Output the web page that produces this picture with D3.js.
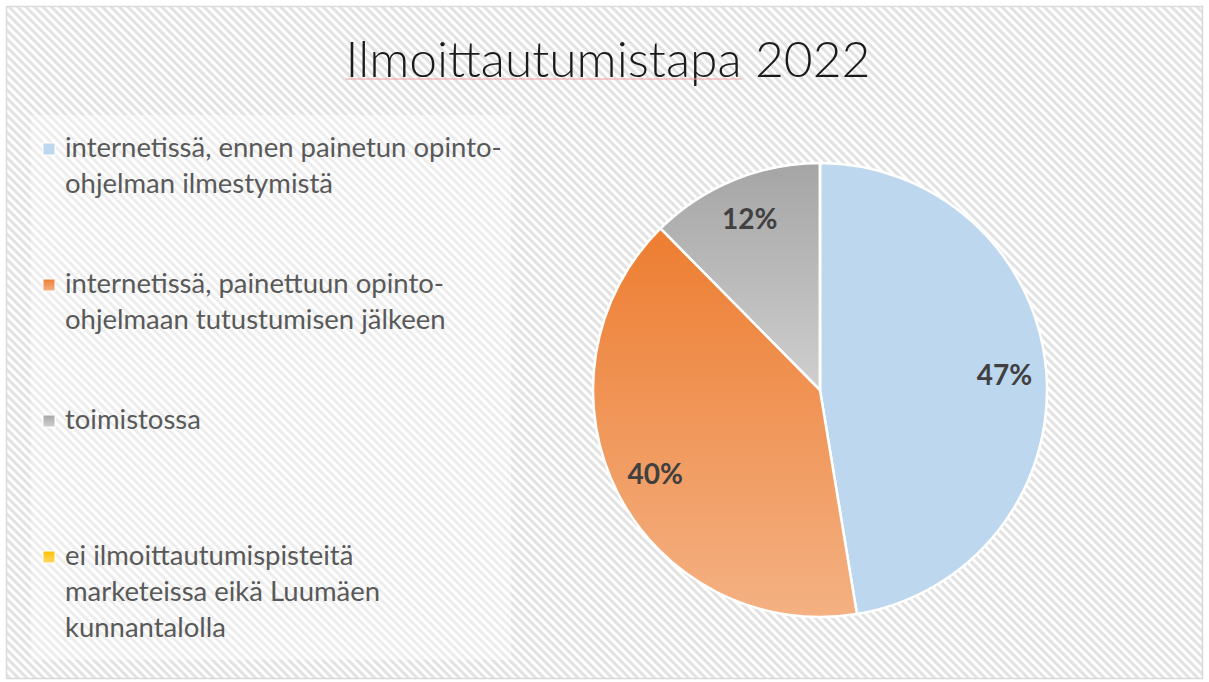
<html>
<head>
<style>
  body { margin: 0; background: #fff; }
  svg text { font-family: Lato, "Open Sans", sans-serif; }
</style>
</head>
<body>
  <div id="chart"></div>
  <script src="https://cdn.jsdelivr.net/npm/d3@7/dist/d3.min.js"></script>
  <script>
    // data
    var categories = [
      ['internetissä, ennen painetun opinto-', 'ohjelman ilmestymistä'],
      ['internetissä, painettuun opinto-', 'ohjelmaan tutustumisen jälkeen'],
      ['toimistossa'],
      ['ei ilmoittautumispisteitä', 'marketeissa eikä Luumäen', 'kunnantalolla']
    ];
    var values = [47.4, 40.2, 12.4, 0];
    var colorsTop = ['#bdd7ee', '#ed7d31', '#a5a5a5', '#ffc000'];
    var colorsBottom = ['#bdd7ee', '#f4b183', '#cfcfcf', '#ffd966'];
    var title = 'Ilmoittautumistapa 2022';

    var width = 1209, height = 682;
    var svg = d3.select('#chart').append('svg')
      .attr('width', width)
      .attr('height', height);

    var defs = svg.append('defs');
    var pat = defs.append('pattern')
      .attr('id', 'stripes')
      .attr('patternUnits', 'userSpaceOnUse')
      .attr('width', 6)
      .attr('height', 6)
      .attr('patternTransform', 'rotate(-45)');
    pat.append('rect').attr('width', 6).attr('height', 6).attr('fill', '#ffffff');
    pat.append('rect').attr('width', 3).attr('height', 6).attr('fill', '#e2e2e2');

    colorsTop.forEach(function(c, i) {
      var g = defs.append('linearGradient')
        .attr('id', 'grad' + i)
        .attr('x1', 0).attr('y1', 0).attr('x2', 0).attr('y2', 1);
      g.append('stop').attr('offset', '0%').attr('stop-color', c);
      g.append('stop').attr('offset', '100%').attr('stop-color', colorsBottom[i]);
    });

    // chart area background and frame
    svg.append('rect')
      .attr('x', 6.5).attr('y', 6.5)
      .attr('width', width - 13).attr('height', height - 10)
      .attr('fill', 'url(#stripes)')
      .attr('stroke', '#d9d9d9')
      .attr('stroke-width', 1.5);

    // title
    var titleText = svg.append('text')
      .attr('x', 608)
      .attr('y', 77)
      .attr('text-anchor', 'middle')
      .style('font-weight', 300)
      .style('font-size', '48px')
      .attr('fill', '#1a1a1a')
      .text(title);
    var tw = titleText.node().getComputedTextLength();
    titleText.style('font-size', (48 * 525 / tw) + 'px');
    var tb = titleText.node().getBBox();
    // spell-check squiggle under first word
    var firstWordLen = titleText.node().getSubStringLength(0, title.indexOf(' '));
    svg.append('line')
      .attr('x1', tb.x).attr('x2', tb.x + firstWordLen)
      .attr('y1', 79).attr('y2', 79)
      .attr('stroke', '#f4a0a0').attr('stroke-width', 1.2);

    // legend
    svg.append('rect')
      .attr('x', 31).attr('y', 115)
      .attr('width', 480).attr('height', 545)
      .attr('fill', '#ffffff').attr('fill-opacity', 0.4);

    var legendY = d3.scaleLinear().domain([0, 3]).range([157, 565]);
    var lineH = 36;
    var legend = svg.append('g');
    var items = legend.selectAll('g.item')
      .data(categories)
      .enter()
      .append('g')
      .attr('class', 'item')
      .attr('transform', function(d, i) { return 'translate(0,' + legendY(i) + ')'; });
    items.append('rect')
      .attr('x', 43).attr('y', -14)
      .attr('width', 12).attr('height', 12)
      .attr('fill', function(d, i) { return 'url(#grad' + i + ')'; })
      .attr('stroke', '#ffffff').attr('stroke-width', 1);
    var legendTexts = items.append('text')
      .attr('fill', '#595959')
      .style('font-size', '26px');
    legendTexts.selectAll('tspan')
      .data(function(d) { return d; })
      .enter()
      .append('tspan')
      .attr('x', 65)
      .attr('y', function(d, j) { return j * lineH; })
      .text(function(d) { return d; });
    var firstLine = legendTexts.filter(function(d, i) { return i === 0; }).select('tspan').node();
    var lw = firstLine.getComputedTextLength();
    legendTexts.style('font-size', (26 * 437 / lw) + 'px');

    // pie
    var cx = 820, cy = 390, r = 227;
    var pie = d3.pie().sort(null).value(function(d) { return d; });
    var arc = d3.arc().innerRadius(0).outerRadius(r);
    var labelArc = d3.arc().innerRadius(r * 0.815).outerRadius(r * 0.815);
    var total = d3.sum(values);
    var arcs = pie(values);

    var pg = svg.append('g').attr('transform', 'translate(' + cx + ',' + cy + ')');
    pg.selectAll('path')
      .data(arcs)
      .enter()
      .append('path')
      .attr('d', arc)
      .attr('fill', function(d, i) { return 'url(#grad' + i + ')'; })
      .attr('stroke', '#ffffff')
      .attr('stroke-width', 2.5)
      .attr('stroke-linejoin', 'round');

    pg.selectAll('text')
      .data(arcs.filter(function(d) { return d.value > 0; }))
      .enter()
      .append('text')
      .attr('transform', function(d) { return 'translate(' + labelArc.centroid(d) + ')'; })
      .attr('text-anchor', 'middle')
      .attr('dy', '0.36em')
      .attr('fill', '#404040')
      .style('font-size', '28px')
      .style('font-weight', 700)
      .text(function(d) { return Math.round(d.value / total * 100) + '%'; });
  </script>
</body>
</html>
